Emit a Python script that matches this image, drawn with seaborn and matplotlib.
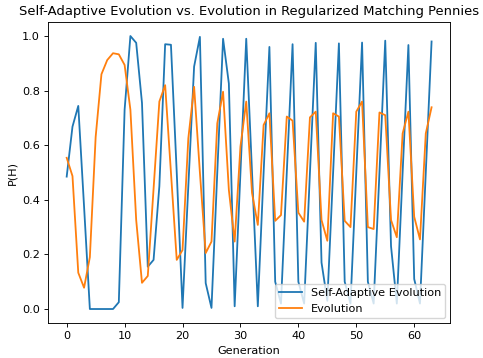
import numpy as np
import pandas as pd
import matplotlib
matplotlib.use("Agg")
import matplotlib.pyplot as plt
import seaborn as sns

# P(H) per generation
generations = list(range(64))
self_adaptive = [0.485, 0.668, 0.744, 0.375, 0.0, 0.0, 0.0, 0.0, 0.0, 0.025,
                 0.73, 1.0, 0.975, 0.755, 0.155, 0.18, 0.45, 0.97, 0.968, 0.5,
                 0.004, 0.45, 0.888, 0.997, 0.095, 0.004, 0.5, 0.99, 0.826, 0.01,
                 0.5, 0.99, 0.5, 0.01, 0.5, 0.96, 0.1, 0.02, 0.5, 0.97,
                 0.1, 0.02, 0.5, 0.975, 0.17, 0.03, 0.5, 0.973, 0.1, 0.02,
                 0.5, 0.976, 0.1, 0.02, 0.5, 0.983, 0.23, 0.02, 0.5, 0.967,
                 0.11, 0.02, 0.5, 0.98]
evolution = [0.554, 0.487, 0.133, 0.078, 0.19, 0.63, 0.86, 0.912, 0.937, 0.933,
             0.894, 0.73, 0.326, 0.096, 0.121, 0.44, 0.76, 0.82, 0.5, 0.18,
             0.216, 0.625, 0.814, 0.5, 0.205, 0.247, 0.68, 0.796, 0.436, 0.247,
             0.595, 0.76, 0.425, 0.308, 0.674, 0.717, 0.323, 0.344, 0.705, 0.69,
             0.353, 0.32, 0.702, 0.723, 0.326, 0.25, 0.717, 0.705, 0.323, 0.30,
             0.723, 0.76, 0.30, 0.293, 0.72, 0.71, 0.326, 0.263, 0.643, 0.723,
             0.338, 0.255, 0.643, 0.739]

df = pd.DataFrame({"Generation": generations,
                   "Self-Adaptive Evolution": self_adaptive,
                   "Evolution": evolution})

plt.rcParams['font.family'] = ['DejaVu Sans']
fs = 8.1

fig = plt.figure(figsize=(4.83, 3.58), dpi=100)
ax = fig.add_axes([0.1003, 0.0987, 0.831, 0.8388])

sns.lineplot(data=df, x="Generation", y="Self-Adaptive Evolution", ax=ax,
             color="#1f77b4", linewidth=1.3, label="Self-Adaptive Evolution")
sns.lineplot(data=df, x="Generation", y="Evolution", ax=ax,
             color="#ff7f0e", linewidth=1.3, label="Evolution")

ax.set_xlim(-3.15, 66.15)
ax.set_ylim(-0.05, 1.05)
ax.set_xticks([0, 10, 20, 30, 40, 50, 60])
ax.set_yticks([0.0, 0.2, 0.4, 0.6, 0.8, 1.0])
ax.tick_params(labelsize=fs, width=0.65, length=2.8)
for s in ax.spines.values():
    s.set_linewidth(0.65)

ax.set_xlabel("Generation", fontsize=fs, labelpad=3)
ax.set_ylabel("P(H)", fontsize=fs, labelpad=3)
ax.set_title("Self-Adaptive Evolution vs. Evolution in Regularized Matching Pennies",
             fontsize=9.45, pad=5)
ax.legend(loc="lower right", fontsize=fs, borderaxespad=0.4)

fig.savefig("out.png", dpi=100)
